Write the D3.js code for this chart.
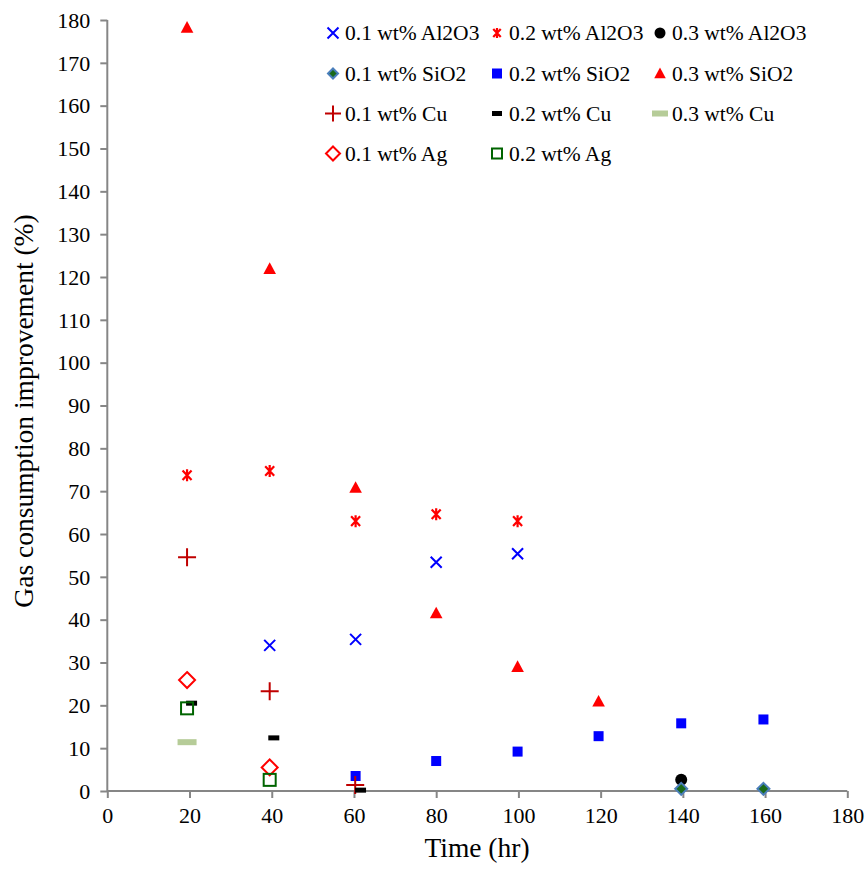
<!DOCTYPE html>
<html><head><meta charset="utf-8">
<script src="https://cdn.jsdelivr.net/npm/d3@7"></script>
<style>body{margin:0;background:#fff}svg{display:block}</style>
</head><body><svg id="c" width="867" height="871"></svg>
<script>
const xTicks = [0,20,40,60,80,100,120,140,160,180];
const yTicks = [0,10,20,30,40,50,60,70,80,90,100,110,120,130,140,150,160,170,180];

const al01 = [[39.5,34.0],[60.4,35.4],[80,53.4],[99.8,55.4]];
const al02 = [[19.4,73.7],[39.5,74.7],[60.4,63.0],[80,64.6],[99.8,63.0]];
const al03 = [[139.6,2.6]];
const si01 = [[139.6,0.5],[159.6,0.5]];
const si02 = [[60.4,3.5],[80,7.0],[99.8,9.2],[119.5,12.8],[139.6,15.8],[159.6,16.7]];
const si03 = [[19.4,178.2],[39.5,121.9],[60.4,70.8],[80,41.5],[99.8,29.0],[119.5,20.9]];
const cu01 = [[19.4,54.6],[39.5,23.3],[60.3,1.4]];
const cu02 = [[20.5,20.5],[40.5,12.4],[61.6,0.2]];
const cu03 = [[19.4,11.4]];
const ag01 = [[19.4,25.9],[39.5,5.5]];
const ag02 = [[19.4,19.3],[39.5,2.6]];

const seriesNames = ["0.1 wt% Al2O3","0.2 wt% Al2O3","0.3 wt% Al2O3","0.1 wt% SiO2","0.2 wt% SiO2","0.3 wt% SiO2","0.1 wt% Cu","0.2 wt% Cu","0.3 wt% Cu","0.1 wt% Ag","0.2 wt% Ag"];
const seriesData = [al01,al02,al03,si01,si02,si03,cu01,cu02,cu03,ag01,ag02];
const seriesMarker = ["x","star","circle","diamond","square","triangle","plus","dash","bar","odiamond","osquare"];

const FONT = '"Times New Roman", "Liberation Serif", Times, "DejaVu Serif", serif';
const svg = d3.select("#c");
const x = d3.scaleLinear().domain([0,180]).range([107.3,847.3]);
const y = d3.scaleLinear().domain([0,180]).range([791,20]);
const axisColor = "#868686";

const gx = svg.append("g").attr("transform","translate(0,791)")
  .call(d3.axisBottom(x).tickValues(xTicks).tickSize(7).tickPadding(9).tickFormat(d3.format("d")));
const gy = svg.append("g").attr("transform","translate(107.3,0)")
  .call(d3.axisLeft(y).tickValues(yTicks).tickSize(7).tickPadding(10).tickFormat(d3.format("d")));
[gx,gy].forEach(g=>{
  g.attr("font-family",FONT).attr("font-size",22);
  g.select(".domain").attr("stroke",axisColor).attr("stroke-width",2);
  g.selectAll(".tick line").attr("stroke",axisColor).attr("stroke-width",2);
  g.selectAll(".tick text").attr("fill","#000").attr("font-family",FONT);
});
gx.selectAll(".domain").attr("d","M107.3,0H847.3");
gy.selectAll(".domain").attr("d","M0,20V791");
gx.selectAll(".tick text").attr("dy","0.72em");
gy.selectAll(".tick text").attr("dy","0.33em");

svg.append("text").attr("x",477).attr("y",857).attr("text-anchor","middle")
  .attr("font-family",FONT).attr("font-size",27.5).text("Time (hr)");
svg.append("text").attr("transform","translate(33,411) rotate(-90)").attr("text-anchor","middle")
  .attr("font-family",FONT).attr("font-size",27.5).text("Gas consumption improvement (%)");

function drawMarker(g, type, s){
  const h=s/2;
  switch(type){
    case "x":
      g.append("path").attr("d",`M${-h},${-h}L${h},${h}M${-h},${h}L${h},${-h}`).attr("stroke","#0000ff").attr("stroke-width",2).attr("fill","none");
      break;
    case "star": {
      const w=h*0.75;
      g.append("path").attr("d",`M${-w},${-h*0.8}L${w},${h*0.8}M${-w},${h*0.8}L${w},${-h*0.8}M0,${-h}V${h}`).attr("stroke","#ff0000").attr("stroke-width",2.2).attr("fill","none");
      break;}
    case "circle":
      g.append("circle").attr("r",h).attr("fill","#000");
      break;
    case "diamond":
      g.append("path").attr("d",`M0,${-h}L${h},0L0,${h}L${-h},0Z`).attr("fill","#1a6a1a").attr("stroke","#4a7ebb").attr("stroke-width",2);
      break;
    case "square":
      g.append("rect").attr("x",-h).attr("y",-h).attr("width",s).attr("height",s).attr("fill","#0000ff");
      break;
    case "triangle":
      g.append("path").attr("d",`M0,${-h*1.1}L${h*1.05},${h*0.85}L${-h*1.05},${h*0.85}Z`).attr("fill","#ff0000");
      break;
    case "plus":
      g.append("path").attr("d",`M${-h},0H${h}M0,${-h}V${h}`).attr("stroke","#c00000").attr("stroke-width",2).attr("fill","none");
      break;
    case "dash":
      g.append("rect").attr("x",-h).attr("y",-2.5).attr("width",s).attr("height",5).attr("fill","#000");
      break;
    case "bar":
      g.append("rect").attr("x",-h).attr("y",-3).attr("width",s).attr("height",6).attr("fill","#b6cc98");
      break;
    case "odiamond":
      g.append("path").attr("d",`M0,${-h}L${h},0L0,${h}L${-h},0Z`).attr("fill","none").attr("stroke","#ff0000").attr("stroke-width",2);
      break;
    case "osquare":
      g.append("rect").attr("x",-h).attr("y",-h).attr("width",s).attr("height",s).attr("fill","none").attr("stroke","#006400").attr("stroke-width",2);
      break;
  }
}
const markerSize = {x:11,star:12,circle:12,diamond:12,square:10,triangle:12,plus:18,dash:11,bar:19,odiamond:16,osquare:12};
const legendSize = {x:11,star:10,circle:11,diamond:10,square:10,triangle:11,plus:16,dash:10,bar:16,odiamond:14,osquare:10};

seriesData.forEach((data,i)=>{
  const type = seriesMarker[i];
  data.forEach(d=>{
    const g = svg.append("g").attr("transform",`translate(${x(d[0])},${y(d[1])})`);
    drawMarker(g,type,markerSize[type]);
  });
});

const colX = [333,497,660];
const rowY = [33,73.5,113.5,153.5];
seriesNames.forEach((name,i)=>{
  const cx = colX[i%3], cy = rowY[Math.floor(i/3)];
  const g = svg.append("g").attr("transform",`translate(${cx},${cy})`);
  drawMarker(g,seriesMarker[i],legendSize[seriesMarker[i]]);
  svg.append("text").attr("x",cx+12).attr("y",cy).attr("dy","0.33em")
    .attr("font-family",FONT).attr("font-size",21.5).text(name);
});
</script></body></html>
